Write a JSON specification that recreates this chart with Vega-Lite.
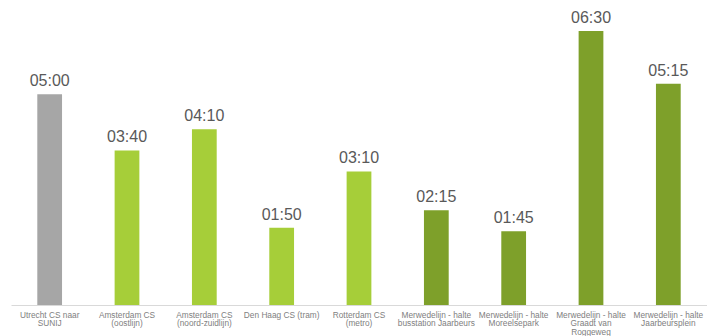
{
  "$schema": "https://vega.github.io/schema/vega-lite/v6.json",
  "width": 696,
  "height": 305,
  "autosize": {"type": "none"},
  "padding": {"left": 11, "top": 0, "right": 0, "bottom": 31},
  "background": "white",
  "config": {"view": {"stroke": null}, "font": "Liberation Sans"},
  "data": {
    "values": [
      {"label": "Utrecht CS naar|SUNIJ", "seconds": 300, "text": "05:00", "group": "a"},
      {"label": "Amsterdam CS|(oostlijn)", "seconds": 220, "text": "03:40", "group": "b"},
      {"label": "Amsterdam CS|(noord-zuidlijn)", "seconds": 250, "text": "04:10", "group": "b"},
      {"label": "Den Haag CS (tram)", "seconds": 110, "text": "01:50", "group": "b"},
      {"label": "Rotterdam CS|(metro)", "seconds": 190, "text": "03:10", "group": "b"},
      {"label": "Merwedelijn - halte|busstation Jaarbeurs", "seconds": 135, "text": "02:15", "group": "c"},
      {"label": "Merwedelijn - halte|Moreelsepark", "seconds": 105, "text": "01:45", "group": "c"},
      {"label": "Merwedelijn - halte|Graadt van|Roggeweg", "seconds": 390, "text": "06:30", "group": "c"},
      {"label": "Merwedelijn - halte|Jaarbeursplein", "seconds": 315, "text": "05:15", "group": "c"}
    ]
  },
  "encoding": {
    "x": {
      "field": "label",
      "type": "nominal",
      "sort": null,
      "scale": {"paddingInner": 0.68, "paddingOuter": 0.34},
      "axis": {
        "title": null,
        "labelAngle": 0,
        "labelExpr": "split(datum.value, '|')",
        "labelFontSize": 8.3,
        "labelLineHeight": 8.6,
        "labelColor": "#808080",
        "labelPadding": 5,
        "labelBaseline": "top",
        "ticks": false,
        "domainColor": "#d9d9d9",
        "labelOverlap": false,
        "labelLimit": 200
      }
    },
    "y": {
      "field": "seconds",
      "type": "quantitative",
      "scale": {"domain": [0, 434], "nice": false},
      "axis": null
    }
  },
  "layer": [
    {
      "mark": {"type": "bar"},
      "encoding": {
        "color": {
          "field": "group",
          "type": "nominal",
          "scale": {"domain": ["a", "b", "c"], "range": ["#a6a6a6", "#a6ce39", "#7ea02a"]},
          "legend": null
        }
      }
    },
    {
      "mark": {"type": "text", "baseline": "bottom", "dy": -5, "fontSize": 16, "color": "#595959"},
      "encoding": {"text": {"field": "text"}}
    }
  ]
}
